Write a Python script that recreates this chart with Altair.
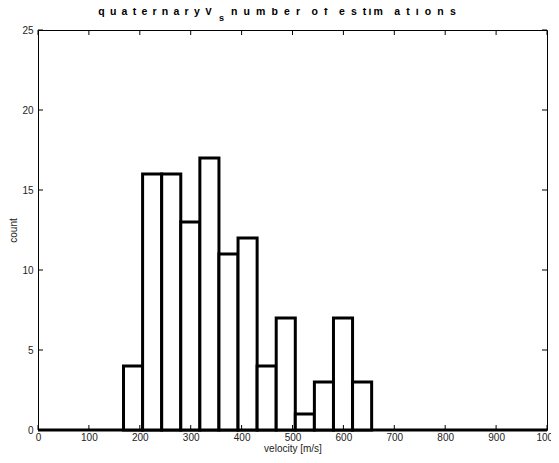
import altair as alt
import pandas as pd

# data
bin_start = [168.0, 205.5, 243.0, 280.5, 318.0, 355.5, 393.0, 430.5, 468.0, 505.5, 543.0, 580.5, 618.0]
bin_end = [205.5, 243.0, 280.5, 318.0, 355.5, 393.0, 430.5, 468.0, 505.5, 543.0, 580.5, 618.0, 655.5]
counts = [4, 16, 16, 13, 17, 11, 12, 4, 7, 1, 3, 7, 3]
x_ticks = [0, 100, 200, 300, 400, 500, 600, 700, 800, 900, 1000]
y_ticks = [0, 5, 10, 15, 20, 25]

df = pd.DataFrame({"x0": bin_start, "x1": bin_end, "count": counts})
xt = pd.DataFrame({"v": x_ticks})
yt = pd.DataFrame({"v": y_ticks})

W, H = 509, 400
FONT = "Liberation Sans"
E = "\u2002"   # en space
T = "\u2009"   # thin space
HS = "\u200a"  # hair space
G = E + HS     # letter gap in the second part

title_a = E.join(list("quaternary")) + E + "V"
title_b = (G.join(list("num")) + G + G.join(list("ber")) + G + E + G.join(list("of")) + G + E
           + "e" + G + "s" + G + "t" + T + "i" + T + "m" + G + E + G.join(list("ations")))

xs = alt.Scale(domain=[0, 1000], nice=False, zero=False)
ys = alt.Scale(domain=[0, 25], nice=False)

xaxis = alt.Axis(values=x_ticks, ticks=False, domain=False, grid=False, labelFontSize=10,
                 labelFont=FONT, labelColor="#222", labelPadding=2, title="velocity [m/s]",
                 titleFont=FONT, titleFontSize=10, titleFontWeight="normal", titleColor="#222",
                 titlePadding=1, labelOverlap=False, labelFlush=False, format="d")
yaxis = alt.Axis(values=y_ticks, ticks=False, domain=False, grid=False, labelFontSize=10,
                 labelFont=FONT, labelColor="#222", labelPadding=5, title="count",
                 titleFont=FONT, titleFontSize=10, titleFontWeight="normal", titleColor="#222",
                 titlePadding=3, format="d")

bars = alt.Chart(df).mark_rect(fill="white", stroke="black", strokeWidth=3).encode(
    x=alt.X("x0:Q", scale=xs, axis=xaxis),
    x2="x1:Q",
    y=alt.Y("count:Q", scale=ys, axis=yaxis),
    y2=alt.datum(0),
)

base_line = alt.Chart(pd.DataFrame({"a": [0], "b": [1000], "y": [0]})).mark_rule(
    color="black", strokeWidth=3).encode(
    x=alt.X("a:Q", scale=xs), x2="b:Q", y=alt.Y("y:Q", scale=ys))

tick_len = 5
xb = alt.Chart(xt).mark_rule(color="black", strokeWidth=1).encode(
    x=alt.X("v:Q", scale=xs), y=alt.value(H), y2=alt.value(H - tick_len))
xtop = alt.Chart(xt).mark_rule(color="black", strokeWidth=1).encode(
    x=alt.X("v:Q", scale=xs), y=alt.value(0), y2=alt.value(tick_len))
yl = alt.Chart(yt).mark_rule(color="black", strokeWidth=1).encode(
    y=alt.Y("v:Q", scale=ys), x=alt.value(0), x2=alt.value(tick_len))
yr = alt.Chart(yt).mark_rule(color="black", strokeWidth=1).encode(
    y=alt.Y("v:Q", scale=ys), x=alt.value(W), x2=alt.value(W - tick_len))

t1 = alt.Chart(pd.DataFrame({"t": [title_a]})).mark_text(
    font=FONT, fontSize=10.5, fontWeight="bold", align="right", baseline="middle").encode(
    text="t:N", x=alt.value(174), y=alt.value(-18))
t2 = alt.Chart(pd.DataFrame({"t": ["s"]})).mark_text(
    font=FONT, fontSize=9, fontWeight="bold", align="left", baseline="middle").encode(
    text="t:N", x=alt.value(181), y=alt.value(-12))
t3 = alt.Chart(pd.DataFrame({"t": [title_b]})).mark_text(
    font=FONT, fontSize=10.5, fontWeight="bold", align="left", baseline="middle").encode(
    text="t:N", x=alt.value(193), y=alt.value(-18))

chart = alt.layer(base_line, bars, xb, xtop, yl, yr, t1, t2, t3).properties(
    width=W, height=H,
    autosize=alt.AutoSizeParams(type="none"),
    padding={"left": 30, "top": 22, "right": 4, "bottom": 25},
    background="white",
).configure_view(stroke="black", strokeWidth=1)

chart.save("out.html", embed_options={"renderer": "svg", "actions": False})
